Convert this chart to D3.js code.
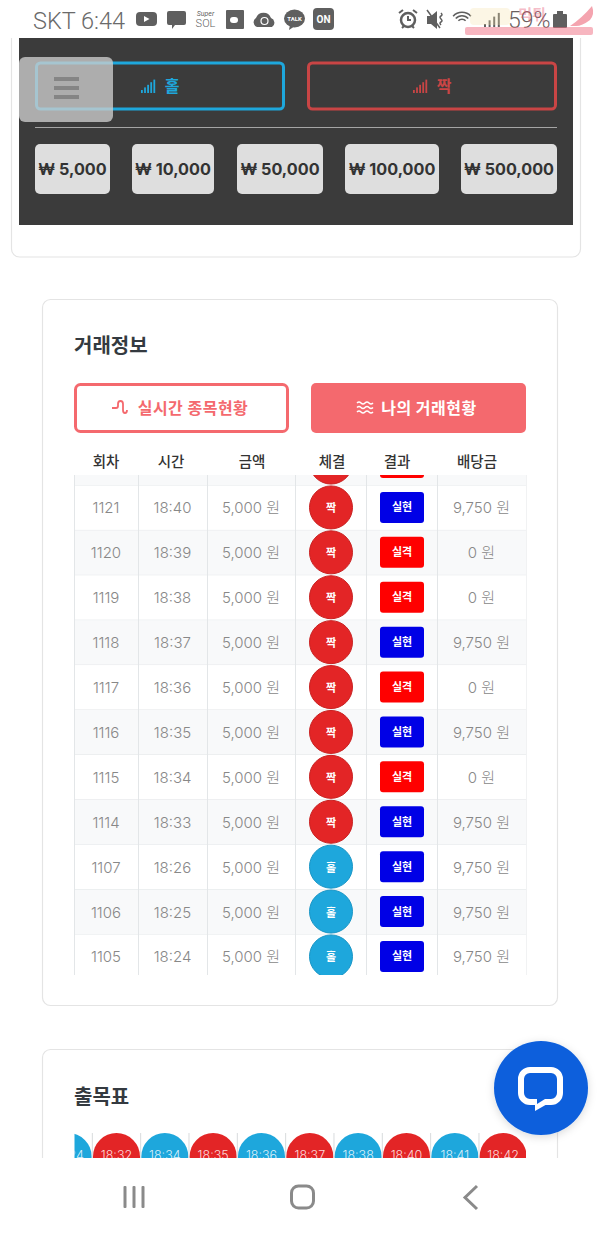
<!DOCTYPE html>
<html>
<head>
<meta charset="utf-8">
<style>
  html, body { margin: 0; padding: 0; background: #fff; }
  svg { display: block; }
  text { font-family: "Noto Sans CJK KR", "Noto Sans", sans-serif; }
</style>
<script src="https://cdn.jsdelivr.net/npm/d3@7"></script>
</head>
<body>
<div id="page"></div>
<script>
// values
var rounds  = ['1122','1121','1120','1119','1118','1117','1116','1115','1114','1107','1106','1105'];
var times   = ['18:41','18:40','18:39','18:38','18:37','18:36','18:35','18:34','18:33','18:26','18:25','18:24'];
var amounts = [5000,5000,5000,5000,5000,5000,5000,5000,5000,5000,5000,5000];
var picks   = ['짝','짝','짝','짝','짝','짝','짝','짝','짝','홀','홀','홀'];
var results = ['실격','실현','실격','실격','실현','실격','실현','실격','실현','실현','실현','실현'];
var payouts = [0,9750,0,0,9750,0,9750,0,9750,9750,9750,9750];

var headers = ['회차','시간','금액','체결','결과','배당금'];
var betSizes = [5000,10000,50000,100000,500000];

var chipTimes = ['18:24','18:32','18:34','18:35','18:36','18:37','18:38','18:40','18:41','18:42'];
var chipPicks = ['홀','짝','홀','짝','홀','짝','홀','짝','홀','짝'];

var RED = '#e32526', BLUE = '#1ea7dc', CORAL = '#f4696e';
var DIGITS = 'Inter, "Noto Sans CJK KR", sans-serif';
var num = d3.format(',');

var svg = d3.select('#page').append('svg').attr('width', 600).attr('height', 1233);
var defs = svg.append('defs');
defs.append('clipPath').attr('id','tableClip').append('rect')
  .attr('x',74).attr('y',475).attr('width',452.5).attr('height',500);
defs.append('clipPath').attr('id','chipClip').append('rect')
  .attr('x',74.5).attr('y',1130).attr('width',451.5).attr('height',28);
var shadow = defs.append('filter').attr('id','shadow').attr('x','-30%').attr('y','-30%').attr('width','160%').attr('height','160%');
shadow.append('feDropShadow').attr('dx',0).attr('dy',2).attr('stdDeviation',4).attr('flood-color','#000').attr('flood-opacity',0.15);

const box = function(g, x, y, w, h, r, fill, stroke, sw){
  return g.append('rect').attr('x',x).attr('y',y).attr('width',w).attr('height',h).attr('rx',r)
    .attr('fill',fill || 'none').attr('stroke',stroke || 'none').attr('stroke-width',sw || 0);
}
const label = function(g, s, x, y, size, color, weight, anchor, family){
  var t = g.append('text').attr('x',x).attr('y',y).attr('font-size',size).attr('fill',color)
    .attr('font-weight',weight || 400).attr('text-anchor',anchor || 'middle')
    .attr('dominant-baseline','central').text(s);
  if (family) t.style('font-family', family);
  return t;
}

//-----------------------------------------------------------------------------------
// Top card with the dark betting panel
//-----------------------------------------------------------------------------------
box(svg, 11.5, -40, 569, 297, 8, '#fff', '#e4e4e4', 1.2);
box(svg, 19, 38, 554, 187, 0, '#3b3b3b');

box(svg, 36.5, 63, 247, 46, 4, 'none', BLUE, 3);
box(svg, 308.5, 63, 247, 46, 4, 'none', '#c94545', 3);

const signalBars = function(x, color){
  d3.range(5).forEach(function(i){
    var h = 3 + i * 2.6;
    box(svg, x + i * 3.1, 93 - h, 1.8, h, 0, color);
  });
}
signalBars(141, BLUE);
label(svg, '홀', 172, 85, 16, BLUE, 700);
signalBars(413, '#c94545');
label(svg, '짝', 444, 85, 16, '#c94545', 700);

svg.append('line').attr('x1',35).attr('x2',557).attr('y1',127.5).attr('y2',127.5).attr('stroke','#a5a5a5').attr('stroke-width',1.2);

// the five stake buttons are as wide as their own text
var betX = [35,132,237,345,461], betW = [75,82,86,94,96];
betSizes.forEach(function(v, i){
  box(svg, betX[i], 144, betW[i], 50, 5, '#dedede');
  label(svg, '₩ ' + num(v), betX[i] + betW[i] / 2, 168.5, 16.2, '#333', 700, 'middle', 'Inter, sans-serif');
});

box(svg, 19, 57, 94, 65, 6, 'rgba(205,205,205,0.78)');
[79,88,97].forEach(function(y){ box(svg, 54, y - 2, 25, 4, 0, '#858585'); });

//-----------------------------------------------------------------------------------
// Trade info card
//-----------------------------------------------------------------------------------
box(svg, 42.5, 299.5, 515, 706, 8, '#fff', '#e4e4e4', 1.2);
label(svg, '거래정보', 74, 344.5, 20, '#343a40', 700, 'start');

box(svg, 75.5, 384.5, 212, 47, 5, '#fff', CORAL, 3);
box(svg, 311, 383, 215, 50, 5, CORAL);
svg.append('path').attr('d','M112 408h4q2 0 2-2v-2q0-3 2.5-3t2.5 3v6q0 3 2 3t2-3')
  .attr('fill','none').attr('stroke',CORAL).attr('stroke-width',1.8);
label(svg, '실시간 종목현황', 193, 407, 16, CORAL, 700).attr('letter-spacing',0.5);
[403,407.5,412].forEach(function(y){
  svg.append('path').attr('d','M357 '+y+'q2-2 4 0t4 0t4 0t4 0').attr('fill','none').attr('stroke','#fff').attr('stroke-width',1.5);
});
label(svg, '나의 거래현황', 429, 407, 16, '#fff', 700).attr('letter-spacing',0.5);

// column centres for the header, which sit slightly off the cell centres
var headerX = [106,171,252,332,397,477];
headers.forEach(function(h, i){ label(svg, h, headerX[i], 460.5, 14.5, '#333', 500); });

var colEdges = [74,138,207,295,366,437,526];
var colCenter = function(i){ return (colEdges[i] + colEdges[i + 1]) / 2; };
var y = d3.scaleBand().domain(rounds).range([440.6, 979.4]);

var table = svg.append('g').attr('clip-path','url(#tableClip)');
var rows = table.selectAll('g.row').data(rounds).join('g').attr('class','row')
  .attr('transform', function(d){ return 'translate(0,' + y(d) + ')'; });

rows.append('rect').attr('x',74).attr('width',452).attr('height',y.bandwidth())
  .attr('fill', function(d, i){ return i % 2 === 0 ? '#f8f9fa' : '#fff'; });
rows.append('line').attr('x1',74).attr('x2',526).attr('y1',y.bandwidth()).attr('y2',y.bandwidth())
  .attr('stroke','#e3e6e8').attr('stroke-width',1);
table.selectAll('line.col').data(colEdges).join('line').attr('class','col')
  .attr('x1',function(d){ return d + 0.5; }).attr('x2',function(d){ return d + 0.5; })
  .attr('y1',475).attr('y2',975).attr('stroke','#e3e6e8').attr('stroke-width',1);

rows.each(function(d, i){
  var row = d3.select(this), mid = y.bandwidth() / 2;
  // row 1122 is scrolled away under the header, only its marks peek out
  var visible = y(d) + mid > 475;
  if (visible) {
    label(row, d, colCenter(0), mid, 15, '#888', 300, 'middle', DIGITS);
    label(row, times[i], colCenter(1), mid, 15, '#888', 300, 'middle', DIGITS);
    label(row, num(amounts[i]) + ' 원', colCenter(2), mid, 15, '#888', 300, 'middle', DIGITS);
  }
  row.append('circle').attr('cx',331).attr('cy',mid - 0.5).attr('r',21.5)
    .attr('fill', picks[i] === '짝' ? RED : BLUE).attr('stroke', picks[i] === '짝' ? '#c92222' : '#1a96c6').attr('stroke-width',1);
  box(row, 380, mid - 16, 44, 31, 3, results[i] === '실현' ? '#0000e6' : '#ff0000');
  if (visible) {
    label(row, picks[i], 331, mid - 0.5, 11, '#fff', 700);
    label(row, results[i], 402, mid - 1.5, 11, '#fff', 700);
    label(row, num(payouts[i]) + ' 원', colCenter(5), mid, 15, '#888', 300, 'middle', DIGITS);
  }
});

//-----------------------------------------------------------------------------------
// History card, cut off by the navigation bar
//-----------------------------------------------------------------------------------
box(svg, 42.5, 1049.5, 515, 200, 8, '#fff', '#e4e4e4', 1.2);
label(svg, '출목표', 74, 1095.5, 20, '#343a40', 700, 'start');

var chipX = d3.scaleBand().domain(d3.range(chipTimes.length)).range([44, 527.3]);
var chipColor = d3.scaleOrdinal().domain(['홀','짝']).range([BLUE, RED]);
var chips = svg.append('g').attr('clip-path','url(#chipClip)');
chipTimes.forEach(function(t, i){
  var cx = chipX(i) + chipX.bandwidth() / 2;
  if (i > 0) chips.append('line').attr('x1',chipX(i)).attr('x2',chipX(i)).attr('y1',1133).attr('y2',1158).attr('stroke','#d8dbdd');
  chips.append('circle').attr('cx',cx).attr('cy',1156.5).attr('r',23.5).attr('fill',chipColor(chipPicks[i]));
  label(chips, t, cx, 1155, 12.5, 'rgba(255,255,255,0.85)', 300, 'middle', DIGITS);
});

//-----------------------------------------------------------------------------------
// Android chrome: status bar, navigation bar, floating chat button
//-----------------------------------------------------------------------------------
box(svg, 0, 1158, 600, 75, 0, '#fff');
box(svg, 0, 0, 600, 38, 0, '#fff');

var GREY = '#5f5f5f';
label(svg, 'SKT 6:44', 33, 20.5, 23.5, '#6a6a6a', 300, 'start', 'Roboto, sans-serif');
box(svg, 136, 12, 21, 14, 4, GREY);
svg.append('path').attr('d','M144 16l5.5 3l-5.5 3z').attr('fill','#fff');
svg.append('path').attr('d','M169 11h15q2 0 2 2v10q0 2-2 2h-9l-3 4v-4h-3q-2 0-2-2v-10q0-2 2-2z').attr('fill',GREY);
label(svg, 'Super', 205.5, 14, 7, GREY, 400, 'middle', 'Roboto, sans-serif').attr('font-style','italic');
label(svg, 'SOL', 205.5, 23, 11, GREY, 300, 'middle', 'Roboto, sans-serif');
box(svg, 226, 10, 18, 19, 1, GREY);
box(svg, 230, 17, 8, 6, 3, '#fff');
svg.append('path').attr('d','M257 27a5 5 0 0 1-1-9a8 8 0 0 1 15 0a5 5 0 0 1 1 9z').attr('fill',GREY);
svg.append('circle').attr('cx',264.5).attr('cy',21).attr('r',3.5).attr('fill','none').attr('stroke','#fff').attr('stroke-width',1.2);
svg.append('ellipse').attr('cx',294.5).attr('cy',18.5).attr('rx',10.5).attr('ry',9).attr('fill',GREY);
svg.append('path').attr('d','M290 25l-1 5l6-4z').attr('fill',GREY);
label(svg, 'TALK', 294.5, 18.5, 6, '#fff', 700, 'middle', 'Roboto, sans-serif');
box(svg, 313, 8, 21, 22, 4, GREY);
label(svg, 'ON', 323.5, 19, 10, '#fff', 700, 'middle', 'Roboto, sans-serif');

svg.append('circle').attr('cx',408).attr('cy',20).attr('r',7).attr('fill','none').attr('stroke',GREY).attr('stroke-width',2.5);
svg.append('path').attr('d','M408 16v4h3M399 13l4-3M417 13l-4-3M402 28l2-2M414 28l-2-2').attr('fill','none').attr('stroke',GREY).attr('stroke-width',2);
svg.append('path').attr('d','M427 16h4l6-5v18l-6-5h-4z').attr('fill',GREY);
svg.append('path').attr('d','M427 10l13 18M441 13q2 2 0 3t0 3t0 3t0 3').attr('fill','none').attr('stroke',GREY).attr('stroke-width',1.5);
[11,7.5,4].forEach(function(r){
  svg.append('path').attr('d', d3.arc()({innerRadius:r,outerRadius:r+1.6,startAngle:-0.85,endAngle:0.85})).attr('transform','translate(462,24)').attr('fill',GREY);
});
d3.range(4).forEach(function(i){ box(svg, 484 + i * 4.6, 24 - i * 3.7, 2, 3 + i * 3.7, 0, GREY); });
label(svg, '59%', 508, 20, 23, '#6a5f60', 300, 'start', 'Roboto, sans-serif');
box(svg, 553, 14, 14, 14, 1, GREY);
box(svg, 557, 11, 6, 3, 0, GREY);

// watermark over the status bar corner
box(svg, 465, 27, 128, 8, 2, 'rgba(240,110,130,0.5)');
box(svg, 470, 8, 40, 17, 4, 'rgba(245,225,170,0.3)');
label(svg, '먹튀', 532, 13, 15, 'rgba(230,80,110,0.4)', 700);
svg.append('path').attr('d','M570 26q12-8 22-20q3 8-2 14q-8 6-14 6z').attr('fill','rgba(235,90,110,0.55)');

// navigation keys
[125,134,143].forEach(function(x){ box(svg, x - 1.5, 1186, 3, 22, 1, '#8a8a8a'); });
box(svg, 291.5, 1186, 22, 22, 7, 'none', '#8a8a8a', 3);
svg.append('path').attr('d','M477 1186l-12 11.5l12 11.5').attr('fill','none').attr('stroke','#8a8a8a').attr('stroke-width',3);

// chat button
svg.append('circle').attr('cx',541).attr('cy',1088).attr('r',47).attr('fill','#0a5fdc').attr('filter','url(#shadow)');
box(svg, 521, 1070, 39, 32, 9, 'none', '#fff', 6);
svg.append('path').attr('d','M535 1100v11l14-8v-3z').attr('fill','#fff');
svg.append('path').attr('d','M537 1099v5l8-5z').attr('fill','#0a5fdc');
</script>
</body>
</html>
